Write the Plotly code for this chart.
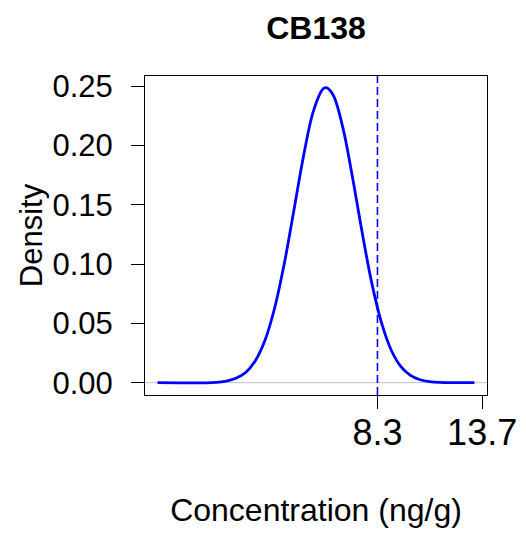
import plotly.graph_objects as go

# Density curve values
conc = [-3.04, 0.0, 0.5, 1.0, 1.5, 2.0, 2.5, 3.0, 3.5, 4.0, 4.5, 5.0, 5.5, 5.65,
        6.0, 6.5, 7.0, 7.5, 8.0, 8.5, 9.0, 9.5, 10.0, 10.5, 11.0, 11.5, 13.3]
density = [0.0, 0.0003, 0.0014, 0.0037, 0.0086, 0.0185, 0.0358, 0.0632, 0.1009,
           0.1463, 0.1923, 0.2293, 0.2479, 0.2488, 0.2431, 0.2162, 0.1744, 0.1277,
           0.0846, 0.0510, 0.0278, 0.0138, 0.0062, 0.0025, 0.0009, 0.0003, 0.0]

ref_value = 8.3
x_tick_vals = [8.3, 13.7]
x_tick_text = ["8.3", "13.7"]
y_tick_vals = [0.00, 0.05, 0.10, 0.15, 0.20, 0.25]
y_tick_text = ["0.00", "0.05", "0.10", "0.15", "0.20", "0.25"]

x_range = [-3.69, 13.95]
y_range = [-0.0104, 0.2587]

FONT = "Liberation Sans, Arial, sans-serif"

fig = go.Figure()
# gray baseline at zero
fig.add_shape(type="line", xref="paper", yref="y", x0=0, x1=1, y0=0, y1=0,
              line=dict(color="#BEBEBE", width=1), layer="below")

fig.add_trace(go.Scatter(x=conc, y=density, mode="lines",
                         line=dict(color="#0000FF", width=2.8, shape="spline"),
                         hoverinfo="skip", showlegend=False))
# dashed reference line
fig.add_trace(go.Scatter(x=[ref_value, ref_value], y=y_range, mode="lines",
                         line=dict(color="#0000FF", width=1.6, dash="8px,4px"),
                         hoverinfo="skip", showlegend=False, cliponaxis=False))

fig.update_layout(
    width=526, height=537,
    margin=dict(l=145, r=39, t=76, b=142, autoexpand=False),
    paper_bgcolor="white", plot_bgcolor="white",
    font=dict(family=FONT, color="black", size=32),
    title=dict(text="<b>CB138</b>", font=dict(size=32, family=FONT, color="black"),
               x=0.5, xref="paper", xanchor="center",
               y=1 - 28 / 537, yref="container", yanchor="middle"),
    showlegend=False,
)
fig.update_xaxes(range=x_range, tickvals=x_tick_vals, ticktext=x_tick_text,
                 showgrid=False, zeroline=False, showline=True, mirror=True,
                 linecolor="black", linewidth=1, ticks="outside", ticklen=13,
                 tickwidth=1, tickcolor="black", tickfont=dict(size=36),
                 ticklabelstandoff=-7,
                 title=dict(text="Concentration (ng/g)", font=dict(size=32), standoff=46),
                 automargin=False)
fig.update_yaxes(range=y_range, tickvals=y_tick_vals, ticktext=y_tick_text,
                 showgrid=False, zeroline=False, showline=True, mirror=True,
                 linecolor="black", linewidth=1, ticks="outside", ticklen=13,
                 tickwidth=1, tickcolor="black", tickfont=dict(size=31),
                 ticklabelstandoff=12,
                 title=dict(text="Density", font=dict(size=31), standoff=0),
                 automargin=False)

fig.write_html("out.html", config={"displayModeBar": False},
               post_script="document.body.style.margin='0';document.body.style.overflow='hidden';")
